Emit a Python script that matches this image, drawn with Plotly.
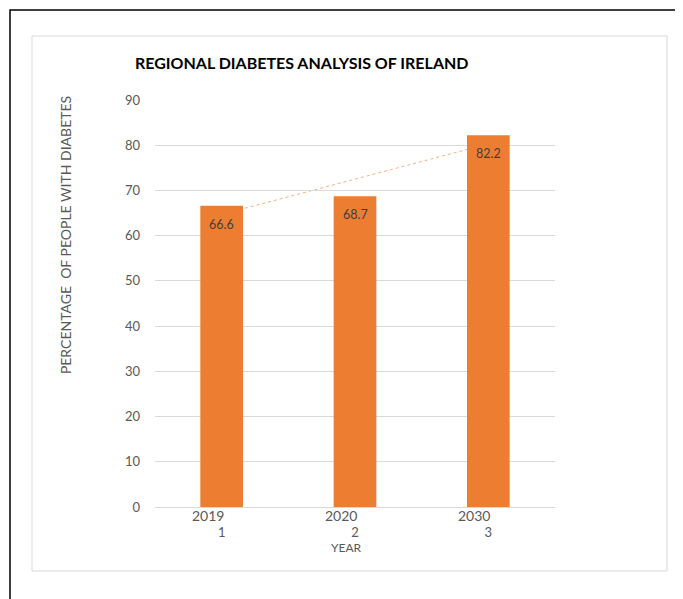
import numpy as np
import plotly.graph_objects as go

years = ["2019", "2020", "2030"]
index_labels = ["1", "2", "3"]
values = [66.6, 68.7, 82.2]
y_ticks = [0, 10, 20, 30, 40, 50, 60, 70, 80, 90]

x_pos = [1, 2, 3]
slope, intercept = np.polyfit(x_pos, values, 1)
trend = [slope * x + intercept for x in x_pos]

FONT = "Lato"
BAR = "#ED7D31"

fig = go.Figure()
fig.add_trace(go.Bar(
    x=x_pos, y=values, width=0.32, marker=dict(color=BAR, line=dict(width=0)),
    hoverinfo="y", showlegend=False,
))

# linear trendline drawn behind the bars
fig.add_shape(type="line", xref="x", yref="y",
              x0=x_pos[0], y0=trend[0], x1=x_pos[-1], y1=trend[-1],
              line=dict(color="#F4B183", width=1, dash="dot"), layer="below")

# data labels inside bar tops
for x, v in zip(x_pos, values):
    fig.add_annotation(x=x, xref="x", y=v, yref="y", yanchor="top",
                       text=f"{v}", showarrow=False, yshift=-9,
                       font=dict(family=FONT, size=12.5, color="#404040"))

# year labels above the index labels
for x, yr in zip(x_pos, years):
    fig.add_annotation(x=x, xref="x", y=0.004, yref="paper", yanchor="top",
                       text=yr, showarrow=False, xshift=-14,
                       font=dict(family=FONT, size=14, color="#595959"))

fig.add_annotation(x=0.478, xref="paper", y=-0.1, yref="paper",
                   xanchor="center", yanchor="middle",
                   text="YEAR", showarrow=False,
                   font=dict(family=FONT, size=12, color="#595959"))
fig.add_annotation(x=-0.225, xref="paper", y=0.668, yref="paper",
                   xanchor="center", yanchor="middle",
                   text="PERCENTAGE  OF PEOPLE WITH DIABETES", textangle=-90,
                   showarrow=False, font=dict(family=FONT, size=14, color="#595959"))
fig.add_annotation(x=0.3675, xref="paper", y=1.093, yref="paper",
                   xanchor="center", yanchor="middle",
                   text="<b>REGIONAL DIABETES ANALYSIS OF IRELAND</b>", showarrow=False,
                   font=dict(family=FONT, size=16, color="#000000"))

# outer black frame and inner grey chart border
fig.add_shape(type="rect", xref="paper", yref="paper",
              x0=-0.3625, x1=1.3375, y0=-0.253, y1=1.2211,
              line=dict(color="#000000", width=1.5), layer="below")
fig.add_shape(type="rect", xref="paper", yref="paper",
              x0=-0.3075, x1=1.28, y0=-0.1572, y1=1.1572,
              line=dict(color="#D9D9D9", width=1), layer="below")

fig.update_layout(
    width=683, height=599,
    margin=dict(l=147, r=136, t=92, b=100),
    paper_bgcolor="white", plot_bgcolor="white",
    font=dict(family=FONT, color="#595959"),
)
fig.update_xaxes(
    range=[0.5, 3.5], tickvals=x_pos, ticktext=index_labels,
    tickfont=dict(family=FONT, size=13, color="#595959"),
    showline=True, linecolor="#D9D9D9", linewidth=1,
    showgrid=False, zeroline=False, ticks="", ticklabelstandoff=13,
)
fig.update_yaxes(
    range=[0, 90], tickvals=y_ticks,
    tickfont=dict(family=FONT, size=13, color="#595959"),
    showgrid=True, gridcolor="#D9D9D9", gridwidth=1,
    zeroline=False, showline=False, ticks="", ticklabelstandoff=14,
)

fig.write_html("out.html")
